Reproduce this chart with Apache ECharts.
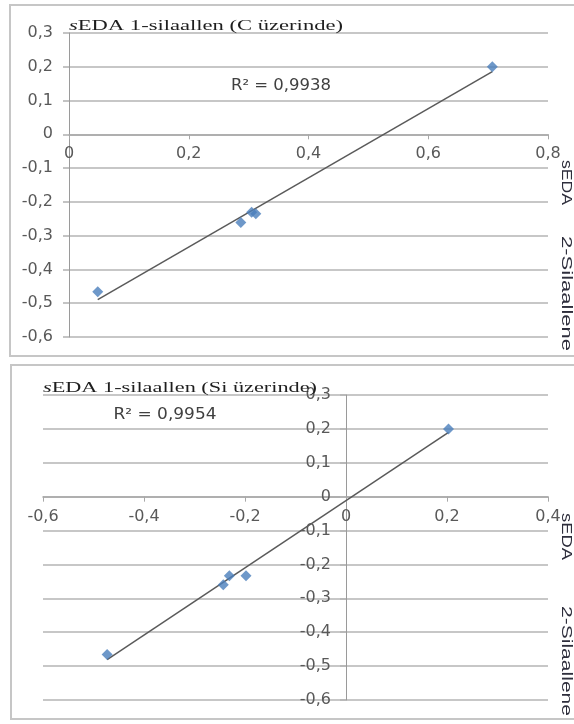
<!DOCTYPE html>
<html>
<head>
<meta charset="utf-8">
<script src="https://cdn.jsdelivr.net/npm/echarts@6/dist/echarts.min.js"></script>
<style>
html,body{margin:0;padding:0;background:#fff;}
#chart{width:574px;height:724px;}
</style>
</head>
<body>
<div id="chart"></div>
<script>
// ---- data ----
const xC  = [0.707, 0.048, 0.287, 0.305, 0.312];
const yC  = [0.200, -0.466, -0.261, -0.231, -0.235];
const xSi = [0.203, -0.473, -0.243, -0.231, -0.198];
const ySi = [0.200, -0.466, -0.260, -0.233, -0.233];

const xTicksC  = [0, 0.2, 0.4, 0.6, 0.8];
const xLabelsC = ['0', '0,2', '0,4', '0,6', '0,8'];
const xTicksSi  = [-0.6, -0.4, -0.2, 0, 0.2, 0.4];
const xLabelsSi = ['-0,6', '-0,4', '-0,2', '0', '0,2', '0,4'];
const yTicks  = [-0.6, -0.5, -0.4, -0.3, -0.2, -0.1, 0, 0.1, 0.2, 0.3];
const yLabels = ['-0,6', '-0,5', '-0,4', '-0,3', '-0,2', '-0,1', '0', '0,1', '0,2', '0,3'];

const titleC  = 'sEDA 1-silaallen (C üzerinde)';
const titleSi = 'sEDA 1-silaallen (Si üzerinde)';
const r2C  = 'R² = 0,9938';
const r2Si = 'R² = 0,9954';
const sideA = 'sEDA';
const sideB = '2-Silaallene';

// ---- helpers ----
function lookup(ticks, labels) {
  return function (v) {
    for (let i = 0; i < ticks.length; i++) {
      if (Math.abs(ticks[i] - v) < 1e-6) return labels[i];
    }
    return '';
  };
}
function pairs(xs, ys) { return xs.map((x, i) => [x, ys[i]]); }
function trend(xs, ys) {
  const n = xs.length;
  const mx = xs.reduce((a, b) => a + b, 0) / n;
  const my = ys.reduce((a, b) => a + b, 0) / n;
  let sxy = 0, sxx = 0;
  for (let i = 0; i < n; i++) { sxy += (xs[i] - mx) * (ys[i] - my); sxx += (xs[i] - mx) * (xs[i] - mx); }
  const b = sxy / sxx, a = my - b * mx;
  const x0 = Math.min(...xs), x1 = Math.max(...xs);
  return [[x0, a + b * x0], [x1, a + b * x1]];
}
const ctx = document.createElement('canvas').getContext('2d');
function widthOf(text, font) { ctx.font = font; return ctx.measureText(text).width; }

const serif = '"Liberation Serif", "Times New Roman", serif';
const sans = '"DejaVu Sans", sans-serif';
const asans = '"Liberation Sans", Arial, sans-serif';

const titleFont = '15px ' + serif;
const sTitleC = 274 / widthOf(titleC, titleFont);
const sTitleSi = 274 / widthOf(titleSi, titleFont);
const sideFont = '15px ' + asans;

const gridColor = '#b5b5b5';
const labelColor = '#595959';

const yMin = -0.6, yMax = 0.3;
const g1 = { left: 69, top: 33, width: 479, height: 304 };
const g2 = { left: 43, top: 395, width: 505, height: 305 };
const x1Min = 0, x1Max = 0.8, x2Min = -0.6, x2Max = 0.4;

// axis offsets so the axes sit on the other axis' zero
const offX1 = -g1.height * (0 - yMin) / (yMax - yMin);
const offX2 = -g2.height * (0 - yMin) / (yMax - yMin);
const offY1 = -g1.width * (0 - x1Min) / (x1Max - x1Min);
const offY2 = -g2.width * (0 - x2Min) / (x2Max - x2Min);

function xAxisCfg(gi, min, max, ticks, labels, off) {
  return {
    gridIndex: gi, type: 'value', min: min, max: max, interval: 0.2,
    position: 'bottom', offset: off,
    axisLine: { show: true, onZero: false, lineStyle: { color: '#a8a8a8', width: 1.6 } },
    axisTick: { show: true, inside: false, length: 5, lineStyle: { color: '#a8a8a8', width: 1 } },
    axisLabel: { margin: 12, fontFamily: sans, fontSize: 16, color: labelColor,
      showMinLabel: true, showMaxLabel: true, formatter: lookup(ticks, labels) },
    splitLine: { show: false }
  };
}
function yAxisCfg(gi, margin, off) {
  return {
    gridIndex: gi, type: 'value', min: yMin, max: yMax, interval: 0.1,
    position: 'left', offset: off,
    axisLine: { show: true, onZero: false, lineStyle: { color: '#9a9a9a', width: 1 } },
    axisTick: { show: true, inside: false, length: 6, lineStyle: { color: gridColor, width: 1.6 } },
    axisLabel: { margin: margin, fontFamily: sans, fontSize: 16, color: labelColor,
      showMinLabel: true, showMaxLabel: true, formatter: lookup(yTicks, yLabels) },
    splitLine: { show: true, lineStyle: { color: gridColor, width: 1.6 } }
  };
}
function textEl(x, y, text, font, fill, align, scaleX, extra) {
  return {
    type: 'text', x: x, y: y, scaleX: scaleX, z: 100,
    style: Object.assign({ text: text, font: font, fill: fill,
      align: align, textAlign: align, verticalAlign: 'middle', textVerticalAlign: 'middle' }, extra || {})
  };
}

const markerColor = '#4a7ebb';

const option = {
  animation: false,
  backgroundColor: '#ffffff',
  grid: [ g1, g2 ],
  xAxis: [
    xAxisCfg(0, x1Min, x1Max, xTicksC, xLabelsC, offX1),
    xAxisCfg(1, x2Min, x2Max, xTicksSi, xLabelsSi, offX2)
  ],
  yAxis: [ yAxisCfg(0, 16, offY1), yAxisCfg(1, 15, offY2) ],
  series: [
    { type: 'line', xAxisIndex: 0, yAxisIndex: 0, data: trend(xC, yC), symbol: 'none',
      lineStyle: { color: '#5a5a5a', width: 1.5 }, z: 3 },
    { type: 'scatter', xAxisIndex: 0, yAxisIndex: 0, data: pairs(xC, yC), symbol: 'diamond',
      symbolSize: 11, itemStyle: { color: markerColor }, z: 4 },
    { type: 'line', xAxisIndex: 1, yAxisIndex: 1, data: trend(xSi, ySi), symbol: 'none',
      lineStyle: { color: '#5a5a5a', width: 1.5 }, z: 3 },
    { type: 'scatter', xAxisIndex: 1, yAxisIndex: 1, data: pairs(xSi, ySi), symbol: 'diamond',
      symbolSize: 11, itemStyle: { color: markerColor }, z: 4 }
  ],
  graphic: [
    { type: 'rect', shape: { x: 10, y: 5, width: 620, height: 351 },
      style: { fill: 'none', stroke: '#c6c6c6', lineWidth: 2 }, z: 1 },
    { type: 'rect', shape: { x: 11, y: 365, width: 620, height: 354 },
      style: { fill: 'none', stroke: '#c6c6c6', lineWidth: 2 }, z: 1 },
    textEl(69, 26, '{it|s}EDA 1-silaallen (C üzerinde)', titleFont, '#1e1e1e', 'left', sTitleC,
      { fontFamily: serif, fontSize: 15, rich: { it: { fontStyle: 'italic', fontFamily: serif, fontSize: 15, fill: '#1e1e1e' } } }),
    textEl(43, 388, '{it|s}EDA 1-silaallen (Si üzerinde)', titleFont, '#1e1e1e', 'left', sTitleSi,
      { fontFamily: serif, fontSize: 15, rich: { it: { fontStyle: 'italic', fontFamily: serif, fontSize: 15, fill: '#1e1e1e' } } }),
    textEl(281, 86, r2C, '16px ' + sans, '#404040', 'center', 100 / widthOf(r2C, '16px ' + sans)),
    textEl(165, 415, r2Si, '16px ' + sans, '#404040', 'center', 103 / widthOf(r2Si, '16px ' + sans)),
    Object.assign(textEl(566, 160, sideA, sideFont, '#2e2e3c', 'left', 45 / widthOf(sideA, sideFont)), { rotation: -Math.PI / 2 }),
    Object.assign(textEl(566, 236, sideB, sideFont, '#2e2e3c', 'left', 115 / widthOf(sideB, sideFont)), { rotation: -Math.PI / 2 }),
    Object.assign(textEl(566, 513, sideA, sideFont, '#2e2e3c', 'left', 47 / widthOf(sideA, sideFont)), { rotation: -Math.PI / 2 }),
    Object.assign(textEl(566, 606, sideB, sideFont, '#2e2e3c', 'left', 110 / widthOf(sideB, sideFont)), { rotation: -Math.PI / 2 })
  ]
};

const chart = echarts.init(document.getElementById('chart'), null, { renderer: 'canvas' });
chart.setOption(option);
</script>
</body>
</html>
